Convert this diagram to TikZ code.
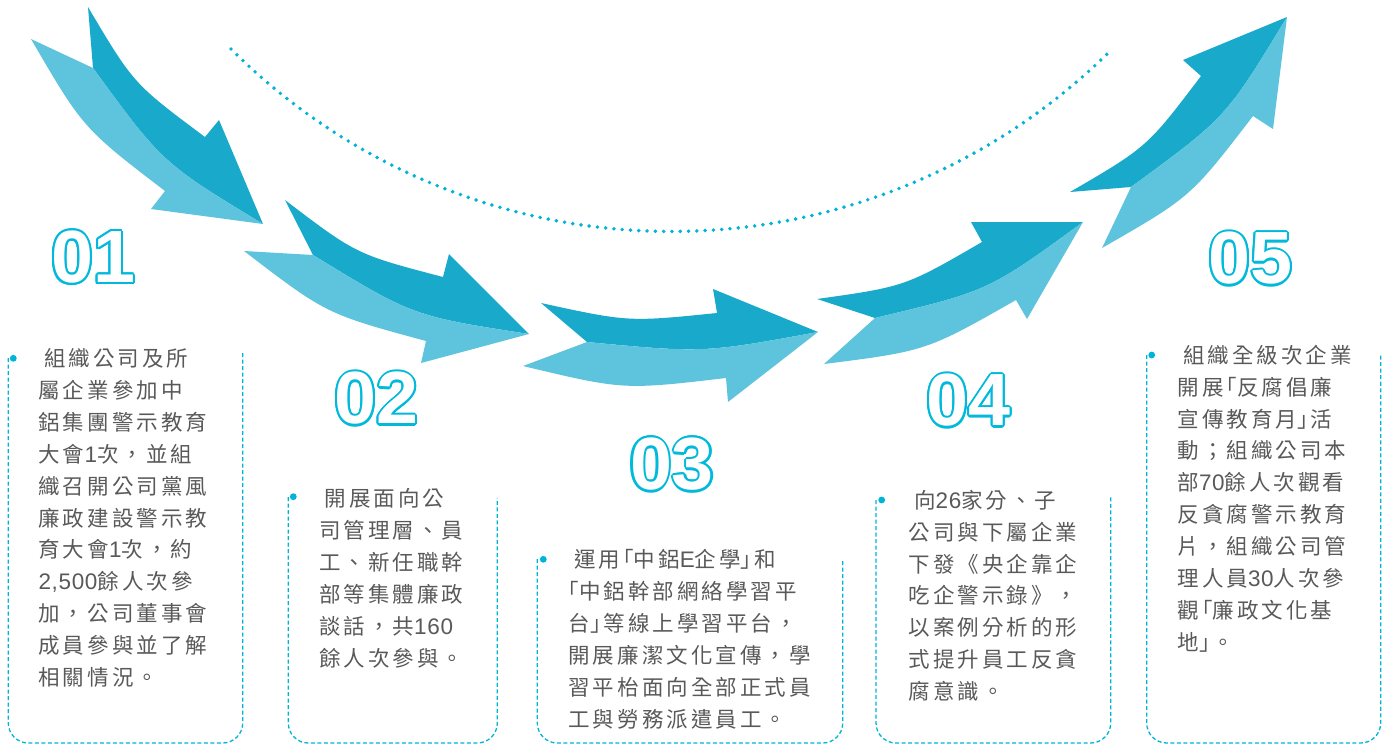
\documentclass[tikz,border=0pt]{standalone}
\usepackage{fontspec}
\newfontfamily\cjk[LetterSpace=14]{Noto Sans CJK TC}
\newfontfamily\cjkh[LetterSpace=14,RawFeature=+halt]{Noto Sans CJK TC}
\newfontfamily\latn[LetterSpace=3]{Liberation Sans}
\newfontfamily\numfont[FakeStretch=1.02]{Liberation Sans}
\newcommand\obr{\kern3pt{\cjkh 「}}
\newcommand\cbr{{\cjkh 」}\kern3pt}
\newcommand\dgt[1]{{\latn\fontsize{22.5}{31.9}\selectfont #1}}
\definecolor{arrdark}{HTML}{19AACB}
\definecolor{arrlight}{HTML}{5EC3DC}
\definecolor{cyanline}{HTML}{00B4D8}
\definecolor{numcyan}{HTML}{00B9DB}
\definecolor{txtgray}{HTML}{595959}
\tikzset{
  darkpart/.style={fill=arrdark},
  lightpart/.style={fill=arrlight},
  dotarc/.style={draw=cyanline,line width=3.9pt,line cap=round,dash pattern=on 0pt off 8.3pt},
  boxline/.style={draw=cyanline,line width=1.3pt,dash pattern=on 4pt off 2.5pt,rounded corners=20pt},
  bulletdot/.style={circle,fill=cyanline,inner sep=0pt,minimum size=6.8pt},
  txtline/.style={anchor=base west,inner sep=0pt,text=txtgray,font=\cjk\fontsize{21.5}{31.9}\selectfont},
  numstyle/.style={inner sep=0pt,anchor=center,font=\numfont\bfseries\fontsize{74}{74}\selectfont}
}
\newcommand\outnum[4]{%
  \foreach \a in {0,22.5,...,337.5}{\node[numstyle,text=numcyan,shift={(\a:2.1pt)}] at (#2,#3) {#4};}
  \node[numstyle,text=white] (#1) at (#2,#3) {#4};}
\newcommand\boxlines[4]{%
  \foreach \t [count=\i] in {#4}{%
    \pgfmathsetmacro\yy{#3+8.2+(\i-1)*31.9}%
    \pgfmathsetmacro\xx{#2+5.7*(\i==1)}%
    \node[txtline] (#1-\i) at (\xx,\yy) {\t};}}
\begin{document}
\begin{tikzpicture}[x=1pt,y=-1pt]
\useasboundingbox (0,0) rectangle (1391,745);
% dotted arc
\draw[dotarc] plot[domain=135:45,samples=120] ({671.6+623.1*cos(\x)},{-391.6+623.1*sin(\x)});
% arrow 1
\fill[darkpart] (88,7) .. controls (133.5,83.7) .. (205,137) -- (219,120) -- (263,224) .. controls (162.4,163) .. (93,68) -- cycle;
\fill[lightpart] (31,39) .. controls (83,128.2) .. (165,191) -- (151,209) -- (263,224) .. controls (162.4,163) .. (93,68) -- cycle;
% arrow 2
\fill[darkpart] (285,200) .. controls (356.3,254.3) .. (443,277) -- (449,254) -- (529,334) .. controls (413.1,316.1) .. (313,255) -- cycle;
\fill[lightpart] (244,251) .. controls (326.1,313.9) .. (426,341) -- (421,363) -- (529,334) .. controls (413.1,316.1) .. (313,255) -- cycle;
% arrow 3
\fill[darkpart] (541,303) .. controls (628.2,322) .. (717,313) -- (713,289) -- (818,332) .. controls (703.2,353) .. (587,342) -- cycle;
\fill[lightpart] (523,366) .. controls (623.4,390) .. (726,378) -- (728,402) -- (818,332) .. controls (703.2,353) .. (587,342) -- cycle;
% arrow 4
\fill[darkpart] (817,299) .. controls (905,286.6) .. (982,242) -- (971,222) -- (1083,222) .. controls (988.6,290.9) .. (875,318) -- cycle;
\fill[lightpart] (824,364) .. controls (926.3,351) .. (1016,300) -- (1027,319) -- (1083,222) .. controls (988.6,290.9) .. (875,318) -- cycle;
% arrow 5
\fill[darkpart] (1070,192) .. controls (1147.1,147.1) .. (1201,76) -- (1183,60) -- (1287,17) .. controls (1226,117.5) .. (1131,187) -- cycle;
\fill[lightpart] (1102,248) .. controls (1190.7,197.1) .. (1253,116) -- (1273,129) -- (1287,17) .. controls (1226,117.5) .. (1131,187) -- cycle;
% numbers
\outnum{n1}{93.3}{257.4}{01}
\outnum{n2}{376.5}{398.5}{02}
\outnum{n3}{672}{464.5}{03}
\outnum{n4}{968.5}{400.5}{04}
\outnum{n5}{1250.5}{258.5}{05}
% boxes
\draw[boxline] (8.3,358) -- (8.3,743) -- (242.7,743) -- (242.7,353);
\draw[boxline] (288.3,497) -- (288.3,743) -- (497.3,743) -- (497.3,498);
\draw[boxline] (537.3,559) -- (537.3,743) -- (842.7,743) -- (842.7,560);
\draw[boxline] (876,500) -- (876,743) -- (1110.7,743) -- (1110.7,495);
\draw[boxline] (1146.7,355) -- (1146.7,743) -- (1380.7,743) -- (1380.7,355);
\node[bulletdot] (d1) at (13.3,358.3) {};
\node[bulletdot] (d2) at (293.3,496.7) {};
\node[bulletdot] (d3) at (543.3,559.3) {};
\node[bulletdot] (d4) at (881.7,500) {};
\node[bulletdot] (d5) at (1151.7,355) {};
% texts
\boxlines{t1}{38.3}{358.3}{組織公司及所,屬企業參加中,鋁集團警示教育,大會\dgt{1}次，並組,織召開公司黨風,廉政建設警示教,育大會\dgt{1}次，約,{\dgt{2,500}餘人次參},加，公司董事會,成員參與並了解,相關情況。}
\boxlines{t2}{319}{498.3}{開展面向公,司管理層、員,工、新任職幹,部等集體廉政,談話，共\dgt{160},餘人次參與。}
\boxlines{t3}{568.3}{559.5}{運用\obr 中鋁\dgt{E}企學\cbr 和,{\cjkh 「}中鋁幹部網絡學習平,台\cbr 等線上學習平台，,開展廉潔文化宣傳，學,習平枱面向全部正式員,工與勞務派遣員工。}
\boxlines{t4}{908.3}{500}{向\dgt{26}家分、子,公司與下屬企業,下發《央企靠企,吃企警示錄》，,以案例分析的形,式提升員工反貪,腐意識。}
\boxlines{t5}{1177.3}{355}{組織全級次企業,開展\obr 反腐倡廉,宣傳教育月\cbr 活,動；組織公司本,部\dgt{70}餘人次觀看,反貪腐警示教育,片，組織公司管,理人員\dgt{30}人次參,觀\obr 廉政文化基,地\cbr 。}
\end{tikzpicture}
\end{document}
